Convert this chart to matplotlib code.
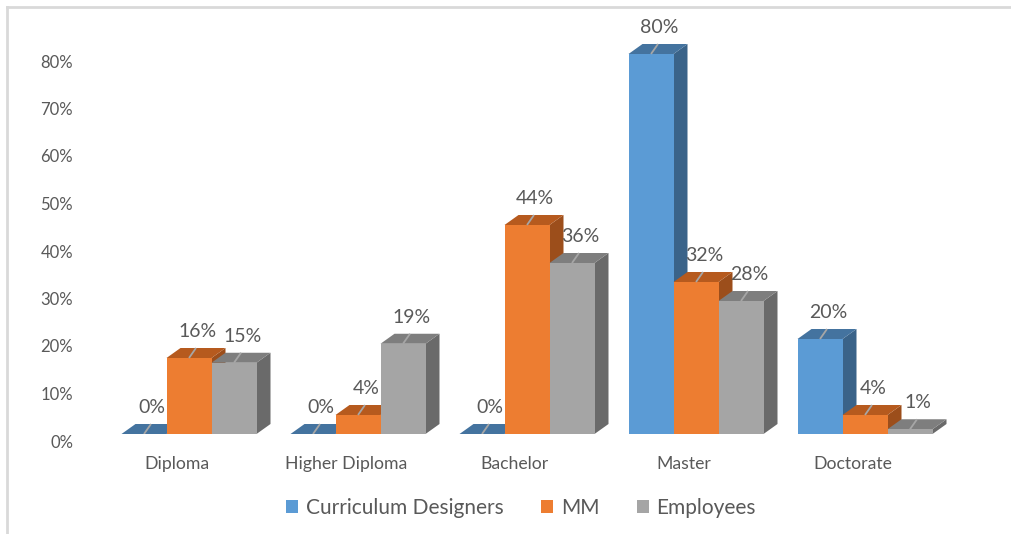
import matplotlib.pyplot as plt
from matplotlib.patches import Polygon, Patch
from matplotlib.transforms import ScaledTranslation
from matplotlib.lines import Line2D

plt.rcParams['font.family'] = ['Lato', 'DejaVu Sans']

levels = ["Diploma", "Higher Diploma", "Bachelor", "Master", "Doctorate"]
series = ["Curriculum Designers", "MM", "Employees"]
designers = [0, 0, 0, 80, 20]
mm = [16, 4, 44, 32, 4]
employees = [15, 19, 36, 28, 1]

front_colors = ["#5B9BD5", "#ED7D31", "#A5A5A5"]
top_colors = ["#44739F", "#B65A1E", "#7E7E7E"]
side_colors = ["#3A6389", "#9C4E1B", "#6A6A6A"]
text_color = "#595959"

W, H, DPI = 1011, 534, 100
fig = plt.figure(figsize=(W / DPI, H / DPI), dpi=DPI)

# pixel geometry of the plot region
base_px = 434          # front baseline
px_per_pct = 4.75
group_px0 = 189        # first group centre
group_pitch = 169
left_px, right_px, top_px = 80, 1000, 12

ax = fig.add_axes([left_px / W, (H - base_px) / H,
                   (right_px - left_px) / W, (base_px - top_px) / H])
ax.set_xlim((left_px - group_px0) / group_pitch, (right_px - group_px0) / group_pitch)
ax.set_ylim(0, (base_px - top_px) / px_per_pct)

bar_w = 45 / group_pitch
dx = 14 / group_pitch
dy = 10 / px_per_pct

values = [designers, mm, employees]
for g in range(len(levels)):
    for s in range(len(series)):
        h = values[s][g]
        x0 = g + (s - 1.5) * bar_w
        x1 = x0 + bar_w
        side = Polygon([(x1, 0), (x1 + dx, dy), (x1 + dx, h + dy), (x1, h)],
                       closed=True, facecolor=side_colors[s], edgecolor='none')
        top = Polygon([(x0, h), (x1, h), (x1 + dx, h + dy), (x0 + dx, h + dy)],
                      closed=True, facecolor=top_colors[s], edgecolor='none')
        ax.add_patch(side)
        ax.add_patch(top)
        ax.bar(x0, h, width=bar_w, align='edge', color=front_colors[s], linewidth=0)

        # leader line and value label
        cx = x0 + bar_w / 2
        ax.plot([cx, cx + 7 / group_pitch], [h, h + 10 / px_per_pct],
                color="#A6A6A6", lw=1.3, solid_capstyle='butt')
        ax.annotate(f"{h}%", xy=(cx, h), xytext=(6, 19), textcoords='offset points',
                    ha='center', va='center', fontsize=14, color=text_color)

for sp in ax.spines.values():
    sp.set_visible(False)

ax.set_yticks(range(0, 81, 10))
ax.set_yticklabels([f"{v}%" for v in range(0, 81, 10)])
ax.tick_params(axis='y', length=0, pad=5, labelsize=12, labelcolor=text_color)
shift = ScaledTranslation(0, -7 / DPI, fig.dpi_scale_trans)
for lbl in ax.get_yticklabels():
    lbl.set_transform(lbl.get_transform() + shift)

ax.set_xticks([g - 12 / group_pitch for g in range(len(levels))])
ax.set_xticklabels(levels)
ax.tick_params(axis='x', length=0, pad=16, labelsize=12.7, labelcolor=text_color)

handles = [Patch(facecolor=c, edgecolor='none') for c in front_colors]
fig.legend(handles, series, loc='center', bbox_to_anchor=(521 / W, 1 - 508 / H),
           ncol=3, frameon=False, fontsize=15, handlelength=0.6, handleheight=0.6,
           handletextpad=0.35, columnspacing=1.8, labelcolor=text_color)

# outer frame (top and left edges)
fig.add_artist(Line2D([7 / W, 1.0], [1 - 7 / H, 1 - 7 / H], transform=fig.transFigure,
                      color="#D9D9D9", lw=2))
fig.add_artist(Line2D([7 / W, 7 / W], [0, 1 - 7 / H], transform=fig.transFigure,
                      color="#D9D9D9", lw=2))

fig.savefig("out.png", dpi=DPI)
